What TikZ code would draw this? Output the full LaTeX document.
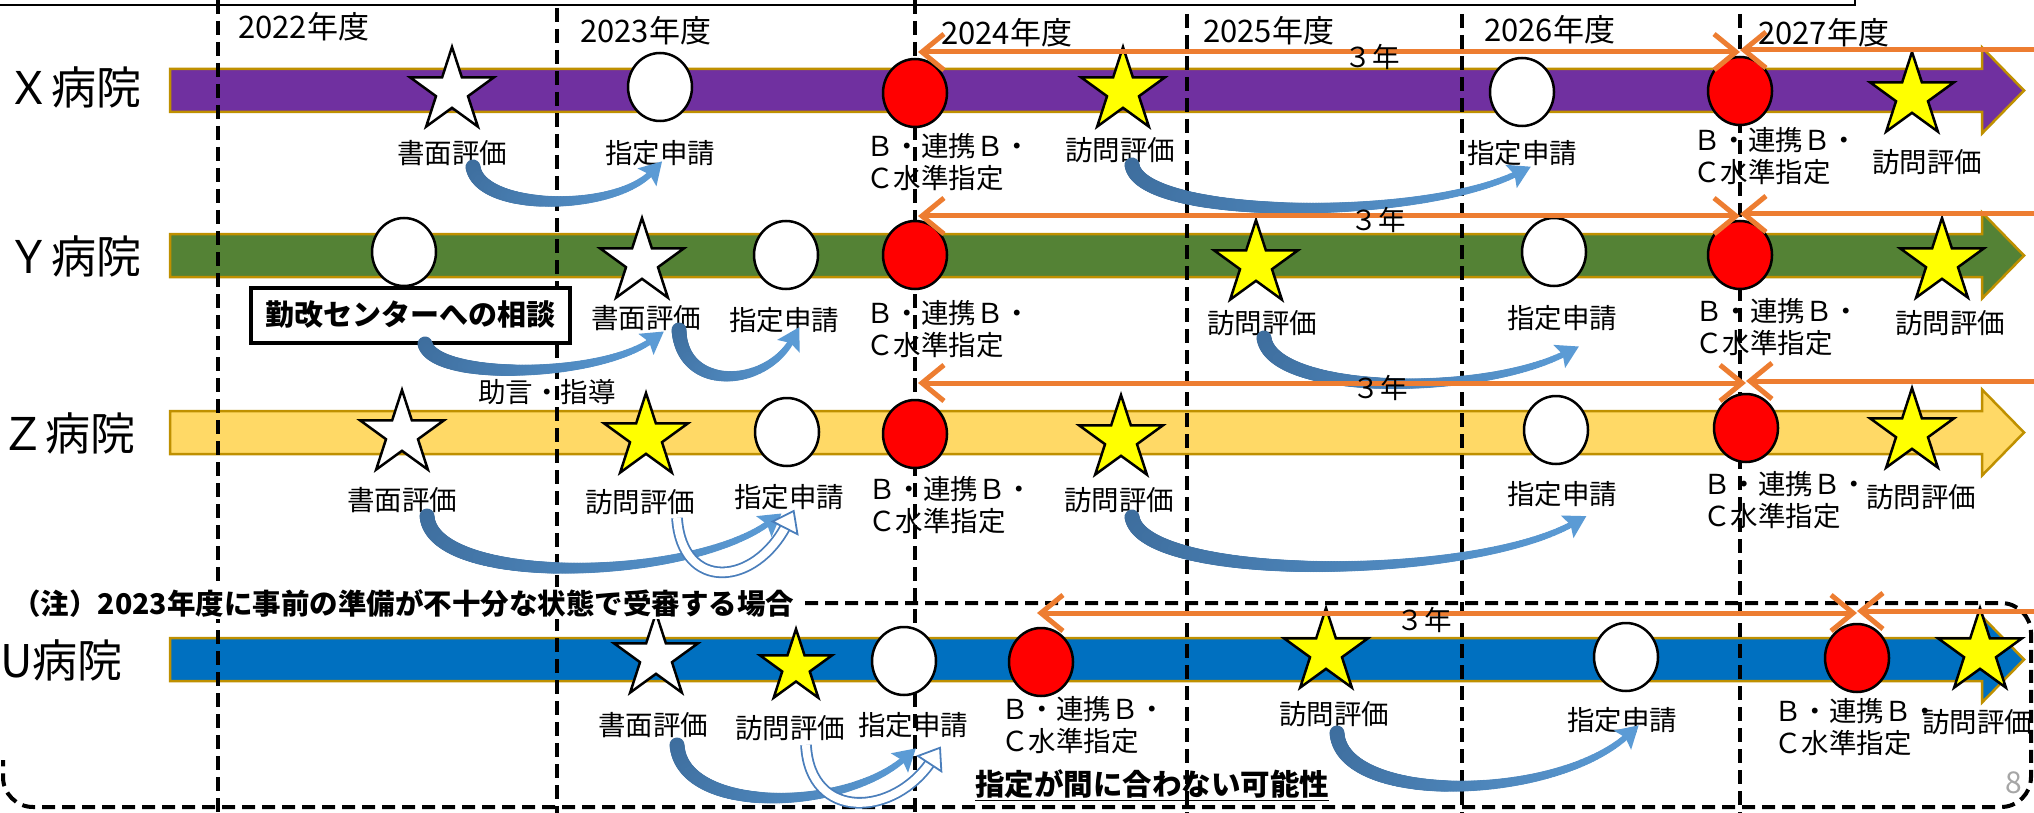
\documentclass[tikz,border=0pt]{standalone}
\usepackage{fontspec}
\setmainfont{Noto Sans CJK JP}
\usetikzlibrary{shapes.geometric,arrows.meta,decorations.markings}
\definecolor{xpurple}{HTML}{7030A0}
\definecolor{ygreen}{HTML}{548235}
\definecolor{zgold}{HTML}{FFD966}
\definecolor{ublue}{HTML}{0070C0}
\definecolor{barline}{HTML}{BF9000}
\definecolor{orng}{HTML}{ED7D31}
\definecolor{arrblue}{HTML}{4A7EBB}
\definecolor{arrdark}{HTML}{3E6E9E}
\definecolor{arrlight}{HTML}{5B9BD5}
\definecolor{staryel}{HTML}{FFFF00}
\definecolor{redc}{HTML}{FF0000}
\definecolor{pagegray}{HTML}{A6A6A6}
\newcommand\tlbar[2]{\draw[barshape, fill=#2] (170,#1-21.5) -- (1982,#1-21.5) -- (1982,#1-43) -- (2024,#1) -- (1982,#1+43) -- (1982,#1+21.5) -- (170,#1+21.5) -- cycle;}
\tikzset{
  barshape/.style={draw=barline, line width=2.5pt, line join=miter},
  yrline/.style={black, line width=4pt, dash pattern=on 14pt off 7pt},
  wcirc/.style={ellipse, draw=black, line width=2.5pt, fill=white, minimum width=64pt, minimum height=68pt, inner sep=0pt},
  rcirc/.style={wcirc, fill=redc},
  wstar/.style={star, star points=5, star point ratio=2.618, draw=black, line width=2.5pt, fill=white, minimum size=88pt, inner sep=0pt},
  ystar/.style={wstar, fill=staryel},
  lbl/.style={font=\fontsize{27.5}{32}\selectfont, inner sep=0pt},
  bclbl/.style={lbl, align=left, anchor=west},
  yrlbl/.style={font=\fontsize{31}{36}\selectfont, anchor=west, inner sep=0pt},
  hosp/.style={font=\fontsize{45}{54}\selectfont, anchor=west, inner sep=0pt},
  oline/.style={draw=orng, line width=5pt},
  otip/.tip={Straight Barb[length=22pt,width=36pt]},
  flow/.style={
    postaction={decorate, decoration={markings,
      mark=between positions 0 and 0.995 step 1.5pt with {%
        \pgfmathsetmacro{\tfr}{\pgfkeysvalueof{/pgf/decoration/mark info/distance from start}/\pgfdecoratedpathlength}%
        \pgfmathsetmacro{\tapr}{7.5-4.5*\tfr}%
        \pgfmathsetmacro{\tpc}{100*(1-\tfr)}%
        \fill[arrdark!\tpc!arrlight] (0pt,0pt) circle[radius=\tapr pt];}}},
    postaction={decorate, decoration={markings,
      mark=at position 0.998 with {\fill[arrlight] (15pt,0pt) -- (-7pt,13pt) -- (-3pt,0pt) -- (-7pt,-13pt) -- cycle;}}}},
  hollow/.style={draw=arrblue, line width=1.8pt, double=white, double distance=8pt,
    postaction={decorate, decoration={markings, mark=at position 0.998 with {\filldraw[fill=white, draw=arrblue, line width=1.8pt] (15pt,0pt) -- (-4pt,14pt) -- (-4pt,-14pt) -- cycle;}}}},
}
\begin{document}
\begin{tikzpicture}[x=1pt,y=-1pt]
\useasboundingbox (0,0) rectangle (2034,813);
\fill[white] (0,0) rectangle (2034,813);
% top frame line
\draw[black, line width=2.5pt] (0,5) -- (1855,5) -- (1855,0);
% bars
\tlbar{90.5}{xpurple}
\tlbar{255.5}{ygreen}
\tlbar{432.5}{zgold}
\tlbar{659.5}{ublue}
% year dividers
\foreach \xx/\yy in {218/0, 557/8, 915/0, 1187/14, 1462/14, 1740/14} \draw[yrline] (\xx,\yy) -- (\xx,813);
% year labels
\node[yrlbl] (y22) at (238,27) {2022年度};
\node[yrlbl] (y23) at (580,31) {2023年度};
\node[yrlbl] (y24) at (941,33) {2024年度};
\node[yrlbl] (y25) at (1203,31) {2025年度};
\node[yrlbl] (y26) at (1484,30) {2026年度};
\node[yrlbl] (y27) at (1758,33) {2027年度};
% note frame
\draw[black, line width=4pt, dash pattern=on 13pt off 7pt, rounded corners=30pt] (805,603) -| (2031,807) -| (3,760);
% hospital names
\node[hosp] (hx) at (6,87) {Ｘ病院};
\node[hosp] (hy) at (6,256) {Ｙ病院};
\node[hosp] (hz) at (0,433) {Ｚ病院};
\node[hosp] (hu) at (0,660) {U病院};
% ---- X row markers
\node[wstar] (xs1) at (452,91) {};
\node[wcirc] (xc1) at (660,87) {};
\node[rcirc] (xr1) at (915,93) {};
\node[ystar] (xs2) at (1123,91) {};
\node[wcirc] (xc2) at (1522,92) {};
\node[rcirc] (xr2) at (1740,91) {};
\node[ystar] (xs3) at (1912,96) {};
% ---- Y row markers
\node[wcirc] (yc0) at (404,252) {};
\node[wstar] (ys1) at (642,262) {};
\node[wcirc] (yc1) at (786,255) {};
\node[rcirc] (yr1) at (915,255) {};
\node[ystar] (ys2) at (1256,264) {};
\node[wcirc] (yc2) at (1554,252) {};
\node[rcirc] (yr2) at (1740,255) {};
\node[ystar] (ys3) at (1942,262) {};
% ---- Z row markers
\node[wstar] (zs1) at (402,434) {};
\node[ystar] (zs2) at (646,437) {};
\node[wcirc] (zc1) at (787,432) {};
\node[rcirc] (zr1) at (915,434) {};
\node[ystar] (zs3) at (1121,439) {};
\node[wcirc] (zc2) at (1556,430) {};
\node[rcirc] (zr2) at (1746,428) {};
\node[ystar] (zs4) at (1912,432) {};
% ---- U row markers
\node[wstar] (us1) at (656,657) {};
\node[ystar, minimum size=76pt] (us2) at (796,667) {};
\node[wcirc] (uc1) at (904,661) {};
\node[rcirc] (ur1) at (1041,662) {};
\node[ystar] (us3) at (1326,652) {};
\node[wcirc] (uc2) at (1626,657) {};
\node[rcirc] (ur2) at (1857,658) {};
\node[ystar] (us4) at (1980,652) {};
% ---- X labels
\node[lbl] (xl1) at (452,153) {書面評価};
\node[lbl] (xl2) at (660,153) {指定申請};
\node[bclbl] (xl3) at (866,162) {Ｂ・連携Ｂ・\\Ｃ水準指定};
\node[lbl] (xl4) at (1120,150) {訪問評価};
\node[lbl] (xl5) at (1522,153) {指定申請};
\node[bclbl] (xl6) at (1693,156) {Ｂ・連携Ｂ・\\Ｃ水準指定};
\node[lbl] (xl7) at (1927,162) {訪問評価};
% ---- Y labels
\node[draw=black, line width=4pt, fill=white, minimum width=319pt, minimum height=55pt, inner sep=0pt, font=\fontsize{29}{33}\selectfont\bfseries] (ybox) at (410,315) {勤改センターへの相談};
\node[lbl] (yl1) at (646,318) {書面評価};
\node[lbl] (yl2) at (784,320) {指定申請};
\node[bclbl] (yl3) at (866,329) {Ｂ・連携Ｂ・\\Ｃ水準指定};
\node[lbl] (yl4) at (1262,323) {訪問評価};
\node[lbl] (yl5) at (1562,318) {指定申請};
\node[bclbl] (yl6) at (1695,327) {Ｂ・連携Ｂ・\\Ｃ水準指定};
\node[lbl] (yl7) at (1950,323) {訪問評価};
\node[lbl] (yadv) at (547,392) {助言・指導};
% ---- Z labels
\node[lbl] (zl1) at (402,500) {書面評価};
\node[lbl] (zl2) at (640,502) {訪問評価};
\node[lbl] (zl3) at (789,497) {指定申請};
\node[bclbl] (zl4) at (868,505) {Ｂ・連携Ｂ・\\Ｃ水準指定};
\node[lbl] (zl5) at (1119,500) {訪問評価};
\node[lbl] (zl6) at (1562,494) {指定申請};
\node[bclbl] (zl7) at (1703,500) {Ｂ・連携Ｂ・\\Ｃ水準指定};
\node[lbl] (zl8) at (1921,497) {訪問評価};
% ---- U labels
\node[lbl] (ul1) at (653,725) {書面評価};
\node[lbl] (ul2) at (790,728) {訪問評価};
\node[lbl] (ul3) at (913,725) {指定申請};
\node[bclbl] (ul4) at (1001,725) {Ｂ・連携Ｂ・\\Ｃ水準指定};
\node[lbl] (ul5) at (1334,714) {訪問評価};
\node[lbl] (ul6) at (1622,720) {指定申請};
\node[bclbl] (ul7) at (1774,727) {Ｂ・連携Ｂ・\\Ｃ水準指定};
\node[lbl] (ul8) at (1977,722) {訪問評価};
% ---- blue arrows
\coordinate (xa1s) at (473,167); \coordinate (xa1e) at (652,172);
\path[flow] (xa1s) .. controls (480,212) and (615,212) .. (xa1e);
\coordinate (xa2s) at (1132,165); \coordinate (xa2e) at (1518,173);
\path[flow] (xa2s) .. controls (1140,220) and (1420,222) .. (xa2e);
\coordinate (ya1s) at (425,344); \coordinate (ya1e) at (652,340);
\path[flow] (ya1s) .. controls (435,381) and (600,378) .. (ya1e);
\coordinate (ya2s) at (679,330); \coordinate (ya2e) at (792,340);
\path[flow] (ya2s) .. controls (682,392) and (765,388) .. (ya2e);
\coordinate (ya3s) at (1264,338); \coordinate (ya3e) at (1566,353);
\path[flow] (ya3s) .. controls (1272,395) and (1480,397) .. (ya3e);
\coordinate (za1s) at (427,516); \coordinate (za1e) at (770,522);
\path[flow] (za1s) .. controls (432,587) and (690,582) .. (za1e);
\coordinate (za2s) at (677,518); \coordinate (za2e) at (787,524);
\draw[hollow] (za2s) .. controls (682,592) and (755,587) .. (za2e);
\coordinate (za3s) at (1132,517); \coordinate (za3e) at (1574,523);
\path[flow] (za3s) .. controls (1142,582) and (1470,582) .. (za3e);
\coordinate (ua1s) at (677,745); \coordinate (ua1e) at (905,758);
\path[flow] (ua1s) .. controls (682,815) and (845,812) .. (ua1e);
\coordinate (ua2s) at (806,745); \coordinate (ua2e) at (932,760);
\draw[hollow] (ua2s) .. controls (810,822) and (895,817) .. (ua2e);
\coordinate (ua3s) at (1337,733); \coordinate (ua3e) at (1628,735);
\path[flow] (ua3s) .. controls (1342,805) and (1555,802) .. (ua3e);
% ---- orange 3-year arrows
\coordinate (xo1) at (918,52); \coordinate (xo2) at (1740,52);
\coordinate (xo3) at (2045,50); \coordinate (xo4) at (1740,50);
\draw[oline, {otip}-{otip}] (xo1) -- (xo2);
\draw[oline, -{otip}] (xo3) -- (xo4);
\node[lbl] (xy3) at (1372,57) {３年};
\coordinate (yo1) at (918,216); \coordinate (yo2) at (1740,216);
\coordinate (yo3) at (2045,214); \coordinate (yo4) at (1740,214);
\draw[oline, {otip}-{otip}] (yo1) -- (yo2);
\draw[oline, -{otip}] (yo3) -- (yo4);
\node[lbl] (yy3) at (1378,220) {３年};
\coordinate (zo1) at (918,383); \coordinate (zo2) at (1746,383);
\coordinate (zo3) at (2045,381); \coordinate (zo4) at (1746,381);
\draw[oline, {otip}-{otip}] (zo1) -- (zo2);
\draw[oline, -{otip}] (zo3) -- (zo4);
\node[lbl] (zy3) at (1380,388) {３年};
\coordinate (uo1) at (1037,613); \coordinate (uo2) at (1857,613);
\coordinate (uo3) at (2045,611); \coordinate (uo4) at (1857,611);
\draw[oline, {otip}-{otip}] (uo1) -- (uo2);
\draw[oline, -{otip}] (uo3) -- (uo4);
\node[lbl] (uy3) at (1424,620) {３年};
% ---- note texts
\node[anchor=west, fill=white, inner sep=2pt, font=\fontsize{28.5}{33}\selectfont\bfseries] (note) at (10,603) {（注）2023年度に事前の準備が不十分な状態で受審する場合};
\node[inner sep=0pt, font=\fontsize{29.5}{34}\selectfont\bfseries] (late) at (1152,785) {\underline{指定が間に合わない可能性}};
\node[inner sep=0pt, text=pagegray, font=\fontsize{30}{36}\selectfont] (pg) at (2014,783) {8};
\end{tikzpicture}
\end{document}
